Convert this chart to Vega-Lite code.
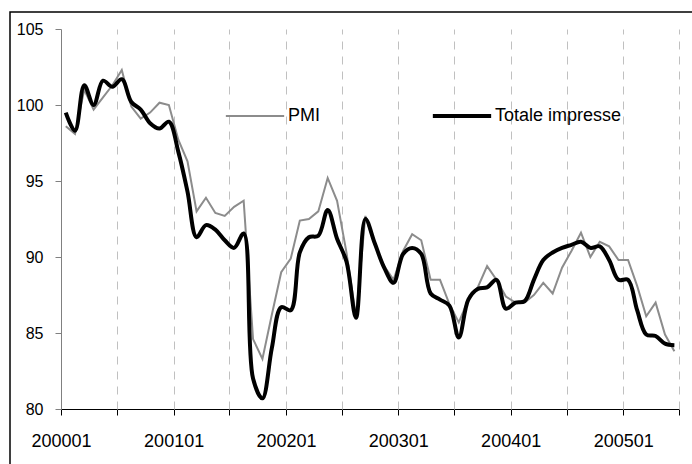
{
  "$schema": "https://vega.github.io/schema/vega-lite/v6.json",
  "autosize": "none",
  "padding": {"left": 10, "top": 12, "right": 0, "bottom": 0},
  "width": 690,
  "height": 460,
  "background": "white",
  "config": {
    "font": "Liberation Sans",
    "view": {"stroke": "#000000", "strokeWidth": 1.5, "strokeDash": [690, 1150, 460]}
  },
  "data": {
    "format": {"parse": {"period": "utc:'%Y%m'"}},
    "values": [
      {"period": "200001", "pmi": 98.6, "totale": 99.5},
      {"period": "200002", "pmi": 98.1, "totale": 98.3},
      {"period": "200003", "pmi": 101.0, "totale": 101.3},
      {"period": "200004", "pmi": 99.7, "totale": 100.0},
      {"period": "200005", "pmi": 100.5, "totale": 101.6},
      {"period": "200006", "pmi": 101.3, "totale": 101.2},
      {"period": "200007", "pmi": 102.3, "totale": 101.7},
      {"period": "200008", "pmi": 99.9, "totale": 100.2},
      {"period": "200009", "pmi": 99.1, "totale": 99.7},
      {"period": "200010", "pmi": 99.5, "totale": 98.8},
      {"period": "200011", "pmi": 100.15, "totale": 98.45},
      {"period": "200012", "pmi": 100.0, "totale": 98.9},
      {"period": "200101", "pmi": 97.7, "totale": 96.9},
      {"period": "200102", "pmi": 96.3, "totale": 94.3},
      {"period": "200103", "pmi": 93.0, "totale": 91.3},
      {"period": "200104", "pmi": 93.9, "totale": 92.1},
      {"period": "200105", "pmi": 92.9, "totale": 91.8},
      {"period": "200106", "pmi": 92.7, "totale": 91.1},
      {"period": "200107", "pmi": 93.3, "totale": 90.6},
      {"period": "200108", "pmi": 93.7, "totale": 91.55},
      {"period": "200109", "pmi": 84.6, "totale": 82.0},
      {"period": "200110", "pmi": 83.3, "totale": 80.7},
      {"period": "200111", "pmi": 86.2, "totale": 84.0},
      {"period": "200112", "pmi": 89.0, "totale": 86.7},
      {"period": "200201", "pmi": 89.9, "totale": 86.5},
      {"period": "200202", "pmi": 92.4, "totale": 90.3},
      {"period": "200203", "pmi": 92.5, "totale": 91.3},
      {"period": "200204", "pmi": 93.0, "totale": 91.4},
      {"period": "200205", "pmi": 95.2, "totale": 93.1},
      {"period": "200206", "pmi": 93.7, "totale": 91.2},
      {"period": "200207", "pmi": 90.3, "totale": 89.7},
      {"period": "200208", "pmi": 86.1, "totale": 86.0},
      {"period": "200209", "pmi": 92.7, "totale": 92.5},
      {"period": "200210", "pmi": 90.8, "totale": 90.9},
      {"period": "200211", "pmi": 89.4, "totale": 89.3},
      {"period": "200212", "pmi": 88.5, "totale": 88.3},
      {"period": "200301", "pmi": 90.4, "totale": 90.2},
      {"period": "200302", "pmi": 91.5, "totale": 90.6},
      {"period": "200303", "pmi": 91.1, "totale": 90.2},
      {"period": "200304", "pmi": 88.5, "totale": 87.6},
      {"period": "200305", "pmi": 88.5, "totale": 87.2},
      {"period": "200306", "pmi": 86.9, "totale": 86.8},
      {"period": "200307", "pmi": 85.7, "totale": 84.7},
      {"period": "200308", "pmi": 87.2, "totale": 87.2},
      {"period": "200309", "pmi": 88.0, "totale": 87.9},
      {"period": "200310", "pmi": 89.4, "totale": 88.0},
      {"period": "200311", "pmi": 88.5, "totale": 88.5},
      {"period": "200312", "pmi": 87.4, "totale": 86.6},
      {"period": "200401", "pmi": 87.0, "totale": 87.0},
      {"period": "200402", "pmi": 87.0, "totale": 87.1},
      {"period": "200403", "pmi": 87.5, "totale": 88.5},
      {"period": "200404", "pmi": 88.3, "totale": 89.8},
      {"period": "200405", "pmi": 87.6, "totale": 90.3},
      {"period": "200406", "pmi": 89.3, "totale": 90.6},
      {"period": "200407", "pmi": 90.4, "totale": 90.8},
      {"period": "200408", "pmi": 91.6, "totale": 91.0},
      {"period": "200409", "pmi": 90.0, "totale": 90.6},
      {"period": "200410", "pmi": 91.0, "totale": 90.7},
      {"period": "200411", "pmi": 90.7, "totale": 89.8},
      {"period": "200412", "pmi": 89.8, "totale": 88.5},
      {"period": "200501", "pmi": 89.8, "totale": 88.5},
      {"period": "200502", "pmi": 88.1, "totale": 86.5},
      {"period": "200503", "pmi": 86.1, "totale": 84.9},
      {"period": "200504", "pmi": 87.0, "totale": 84.8},
      {"period": "200505", "pmi": 84.9, "totale": 84.3},
      {"period": "200506", "pmi": 83.8, "totale": 84.2}
    ]
  },
  "layer": [
    {
      "mark": {"type": "line", "strokeWidth": 2},
      "encoding": {
        "x": {
          "field": "period", "type": "temporal", "timeUnit": "utcyearmonth", "bandPosition": 0.5,
          "scale": {"type": "utc", "nice": false, "range": [51, 669],
            "domain": [{"year": 2000, "month": 1, "date": 1, "utc": true}, {"year": 2005, "month": 7, "date": 1, "utc": true}]},
          "axis": {
            "orient": "bottom", "offset": -63, "title": null,
            "values": [
              {"year": 2000, "month": 1, "date": 1, "utc": true},
              {"year": 2000, "month": 7, "date": 1, "utc": true},
              {"year": 2001, "month": 1, "date": 1, "utc": true},
              {"year": 2001, "month": 7, "date": 1, "utc": true},
              {"year": 2002, "month": 1, "date": 1, "utc": true},
              {"year": 2002, "month": 7, "date": 1, "utc": true},
              {"year": 2003, "month": 1, "date": 1, "utc": true},
              {"year": 2003, "month": 7, "date": 1, "utc": true},
              {"year": 2004, "month": 1, "date": 1, "utc": true},
              {"year": 2004, "month": 7, "date": 1, "utc": true},
              {"year": 2005, "month": 1, "date": 1, "utc": true},
              {"year": 2005, "month": 7, "date": 1, "utc": true}
            ],
            "labelExpr": "utcmonth(datum.value) === 0 ? utcFormat(datum.value, '%Y%m') : ''",
            "labelDx": 7, "labelFontSize": 18, "labelColor": "#000000", "labelPadding": 17,
            "labelFlush": false, "labelOverlap": false, "labelBound": false,
            "tickSize": 6, "tickColor": "#000000", "domainColor": "#000000", "domainWidth": 1,
            "grid": false
          }
        },
        "y": {
          "field": "pmi", "type": "quantitative",
          "scale": {"domain": [80, 105], "range": [397, 17], "nice": false, "zero": false},
          "axis": {"orient": "left", "offset": -51, "title": null, "values": [80, 85, 90, 95, 100, 105],
            "tickSize": 6, "tickColor": "#808080", "domainColor": "#808080", "labelFontSize": 16,
            "labelColor": "#000000", "labelPadding": 12, "grid": false}
        },
        "color": {
          "datum": "PMI", "type": "nominal",
          "scale": {"domain": ["PMI", "Totale impresse"], "range": ["#8c8c8c", "#000000"]},
          "legend": {
            "title": null, "orient": "none", "legendX": 216, "legendY": 95, "direction": "horizontal",
            "symbolType": "stroke", "symbolSize": 3400, "symbolStrokeWidth": 2, "symbolOffset": 20,
            "labelFontSize": 18, "labelColor": "#000000", "labelOffset": 24, "columnPadding": 103, "padding": 0,
            "encode": {"symbols": {"update": {"strokeWidth": {"signal": "datum.value === 'PMI' ? 2 : 4"}}}}
          }
        }
      }
    },
    {
      "mark": {"type": "line", "strokeWidth": 4, "interpolate": "catmull-rom"},
      "encoding": {
        "x": {
          "field": "period", "type": "temporal", "timeUnit": "utcyearmonth", "bandPosition": 0.5,
          "scale": {"type": "utc", "nice": false, "range": [51, 669],
            "domain": [{"year": 2000, "month": 1, "date": 1, "utc": true}, {"year": 2005, "month": 7, "date": 1, "utc": true}]},
          "axis": {
            "orient": "bottom", "offset": -63, "title": null,
            "values": [
              {"year": 2000, "month": 7, "date": 1, "utc": true},
              {"year": 2001, "month": 1, "date": 1, "utc": true},
              {"year": 2001, "month": 7, "date": 1, "utc": true},
              {"year": 2002, "month": 1, "date": 1, "utc": true},
              {"year": 2002, "month": 7, "date": 1, "utc": true},
              {"year": 2003, "month": 1, "date": 1, "utc": true},
              {"year": 2003, "month": 7, "date": 1, "utc": true},
              {"year": 2004, "month": 1, "date": 1, "utc": true},
              {"year": 2004, "month": 7, "date": 1, "utc": true},
              {"year": 2005, "month": 1, "date": 1, "utc": true},
              {"year": 2005, "month": 7, "date": 1, "utc": true}
            ],
            "labels": false, "domain": false, "grid": false,
            "tickSize": -380, "tickColor": "#c0c0c0", "tickDash": [8, 7], "tickWidth": 1
          }
        },
        "y": {
          "field": "totale", "type": "quantitative",
          "scale": {"domain": [80, 105], "range": [397, 17], "nice": false, "zero": false},
          "axis": {"orient": "left", "offset": -51, "title": null, "values": [80, 85, 90, 95, 100, 105],
            "tickSize": 6, "tickColor": "#808080", "domainColor": "#808080", "labelFontSize": 16,
            "labelColor": "#000000", "labelPadding": 12, "grid": false}
        },
        "color": {"datum": "Totale impresse", "type": "nominal"}
      }
    }
  ],
  "resolve": {"axis": {"x": "independent"}}
}
